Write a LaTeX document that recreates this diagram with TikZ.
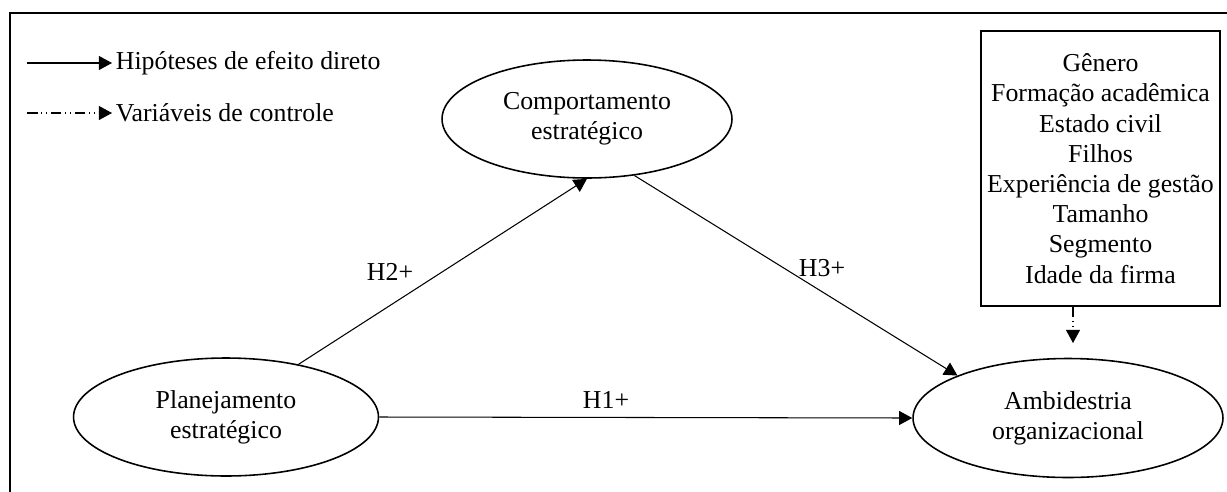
\documentclass[tikz,border=0pt]{standalone}
\usepackage{fontspec}
\setmainfont{Liberation Serif}
\usetikzlibrary{shapes.geometric,arrows.meta}
\tikzset{
  construct/.style={draw, ellipse, line width=0.9pt, inner sep=0pt, align=center},
  hyp/.style={line width=0.6pt, -{Triangle[length=7.5pt,width=8pt]}},
  ctrl/.style={line width=0.6pt, dash pattern=on 6pt off 2pt on 0.8pt off 2pt on 0.8pt off 2pt,
    -{Triangle[length=7.5pt,width=8pt]}}
}
\begin{document}
\begin{tikzpicture}[x=0.02cm, y=-0.02cm, every node/.style={font=\fontsize{14.7}{17.2}\selectfont}]
  \useasboundingbox (0,0) rectangle (1227,491);
  \clip (0,0) rectangle (1227,491);
  % Frame
  \draw[line width=1.1pt] (10,13) rectangle (1240,505);
  % Legend
  \coordinate (l1s) at (27,63);
  \node[right, inner sep=2pt] (l1) at (112,63) {Hipóteses de efeito direto};
  \draw[hyp] (l1s) -- (l1);
  \coordinate (l2s) at (27,113);
  \node[right, inner sep=2pt] (l2) at (112,113) {Variáveis de controle};
  \draw[ctrl] (l2s) -- (l2);
  % Constructs
  \node[construct, minimum width=5.8cm, minimum height=2.36cm] (comp) at (587,119) {Comportamento\\estratégico};
  \node[construct, minimum width=6.1cm, minimum height=2.36cm] (plan) at (226,417) {Planejamento\\estratégico};
  \node[construct, minimum width=6.2cm, minimum height=2.38cm] (ambi) at (1068,418) {Ambidestria\\organizacional};
  % Control variables
  \node[draw, line width=1.1pt, align=center, minimum width=4.66cm, minimum height=5.5cm] (ctrlbox) at (1100.5,168.5)
    {Gênero\\Formação acadêmica\\Estado civil\\Filhos\\Experiência de gestão\\Tamanho\\Segmento\\Idade da firma};
  \coordinate (ctrlend) at (1073,343);
  \draw[ctrl] (ctrlbox.south -| ctrlend) -- (ctrlend);
  % Hypotheses
  \draw[hyp] (plan.36) -- (comp.south);
  \draw[hyp] (comp.-50) -- (ambi.159);
  \draw[hyp] (plan.east) -- (ambi.west);
  \node (h2) at (390,272) {H2+};
  \node (h3) at (822,268) {H3+};
  \node (h1) at (606,400) {H1+};
\end{tikzpicture}
\end{document}
